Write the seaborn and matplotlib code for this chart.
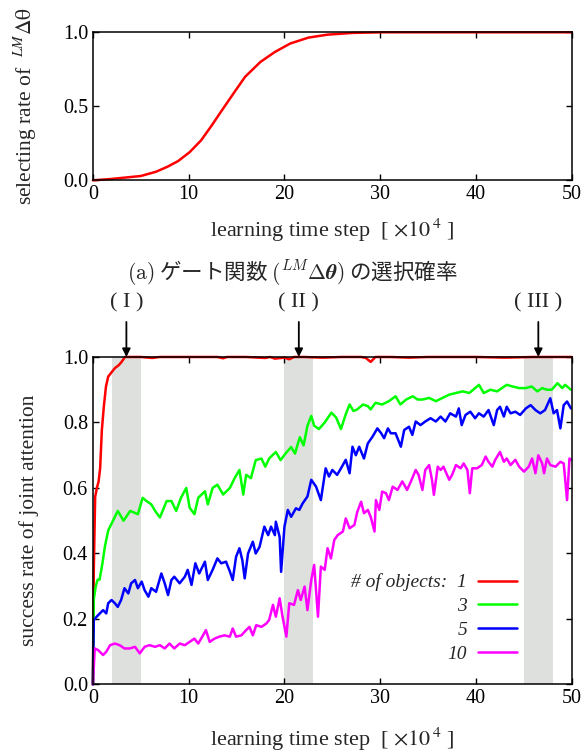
import numpy as np
import pandas as pd
import matplotlib
matplotlib.use("Agg")
import matplotlib.pyplot as plt
import seaborn as sns

# (a) selecting rate of the LM-delta-theta gate
gate_step = [0, 1.9, 5.0, 6.6, 7.8, 8.9, 10.1, 11.3, 12.4, 13.6, 14.8, 15.9,
             17.5, 19.0, 20.6, 22.5, 24.5, 27.2, 30.3, 35, 40, 45, 50]
gate_rate = [0.0, 0.009, 0.029, 0.058, 0.092, 0.13, 0.19, 0.27, 0.37, 0.485,
             0.598, 0.70, 0.80, 0.867, 0.924, 0.964, 0.984, 0.996, 1.0, 1.0,
             1.0, 1.0, 1.0]

# (b) success rate of joint attention, one series per number of objects
obj1_step = [0, 0.1, 0.24, 0.42, 0.6, 0.76, 0.94, 1.15, 1.37, 1.6, 2.0, 2.3,
             2.7, 3.0, 3.35, 5, 6.2, 7, 9, 11, 13, 13.6, 14, 16, 18, 18.5, 19,
             20, 20.5, 21, 22, 24, 26, 28, 28.5, 29, 29.5, 31, 33, 35, 37, 40,
             43, 46, 50]
obj1_rate = [0.0, 0.35, 0.573, 0.60, 0.62, 0.66, 0.777, 0.85, 0.91, 0.94,
             0.955, 0.966, 0.975, 0.985, 1.0, 1.0, 0.997, 1.0, 1.0, 1.0, 1.0,
             0.996, 1.0, 1.0, 0.997, 1.0, 0.995, 0.998, 0.993, 1.0, 1.0,
             0.998, 1.0, 1.0, 0.997, 0.985, 1.0, 1.0, 0.998, 1.0, 1.0, 1.0,
             0.998, 1.0, 1.0]

obj3_step = [0, 0.1, 0.3, 0.5, 0.7, 1.0, 1.25, 1.6, 2.1, 2.6, 3.2, 3.9, 4.7,
             5.2, 5.6, 6.1, 6.5, 7.0, 7.7, 8.2, 8.7, 9.2, 9.75, 10.1, 10.6,
             11.0, 11.7, 12.0, 12.5, 13.0, 13.6, 14.3, 14.8, 15.3, 15.7, 16.0,
             16.5, 17.0, 17.6, 18.0, 18.4, 19.1, 19.6, 20.1, 20.7, 21.1, 21.6,
             22.0, 22.4, 22.8, 23.1, 23.6, 24.2, 24.9, 25.4, 25.9, 26.4, 26.8,
             27.2, 27.6, 28.2, 28.7, 29.0, 29.5, 30.2, 30.9, 31.6, 32.1, 32.7,
             33.4, 33.9, 34.4, 35.1, 35.8, 36.5, 37.2, 37.9, 38.6, 39.3, 39.9,
             40.3, 40.8, 41.5, 42.2, 42.7, 43.2, 43.8, 44.5, 45.2, 45.8, 46.4,
             46.9, 47.4, 47.9, 48.5, 49.0, 49.3, 49.9]
obj3_rate = [0.0, 0.26, 0.30, 0.32, 0.32, 0.37, 0.42, 0.47, 0.50, 0.53, 0.50,
             0.53, 0.52, 0.57, 0.56, 0.55, 0.53, 0.51, 0.56, 0.56, 0.53, 0.57,
             0.60, 0.54, 0.52, 0.57, 0.59, 0.55, 0.60, 0.61, 0.58, 0.60, 0.63,
             0.655, 0.58, 0.64, 0.63, 0.685, 0.69, 0.665, 0.69, 0.71, 0.685,
             0.705, 0.725, 0.705, 0.755, 0.73, 0.79, 0.82, 0.79, 0.78, 0.80,
             0.83, 0.815, 0.78, 0.825, 0.855, 0.835, 0.84, 0.855, 0.85, 0.84,
             0.86, 0.855, 0.865, 0.88, 0.855, 0.87, 0.88, 0.87, 0.87, 0.875,
             0.865, 0.875, 0.885, 0.89, 0.895, 0.89, 0.905, 0.915, 0.89, 0.90,
             0.895, 0.905, 0.915, 0.91, 0.905, 0.905, 0.91, 0.895, 0.905, 0.90,
             0.90, 0.92, 0.905, 0.915, 0.90]

obj5_step = [0, 0.1, 0.4, 0.73, 1.07, 1.4, 1.6, 1.95, 2.3, 2.6, 2.95, 3.3,
             3.7, 4.0, 4.4, 4.7, 5.1, 5.4, 5.8, 6.1, 6.6, 7.15, 7.5, 7.85, 8.2,
             8.5, 9.06, 9.6, 9.9, 10.3, 10.7, 11.1, 11.7, 12.0, 12.5, 13.0,
             13.4, 13.9, 14.3, 14.6, 14.95, 15.3, 15.6, 15.85, 16.2, 16.7, 17.0,
             17.4, 17.9, 18.3, 18.6, 19.0, 19.1, 19.5, 19.65, 20.0, 20.35, 20.7,
             21.2, 21.55, 21.9, 22.4, 22.8, 23.3, 23.8, 24.3, 24.65, 25.0, 25.5,
             25.9, 26.4, 26.8, 27.1, 27.45, 27.8, 28.3, 28.7, 29.2, 29.7, 30.1,
             30.4, 30.8, 31.1, 31.6, 32.15, 32.5, 33.0, 33.35, 33.7, 34.2, 34.7,
             35.25, 35.8, 36.3, 36.8, 37.3, 37.9, 38.2, 38.5, 38.9, 39.4, 39.9,
             40.3, 40.8, 41.3, 41.85, 42.2, 42.5, 42.9, 43.2, 43.6, 44.1, 44.6,
             45.2, 45.7, 46.2, 46.7, 47.2, 47.75, 48.1, 48.45, 48.8, 49.15,
             49.5, 49.9]
obj5_rate = [0.0, 0.197, 0.207, 0.217, 0.227, 0.217, 0.248, 0.258, 0.248,
             0.237, 0.258, 0.294, 0.278, 0.309, 0.319, 0.294, 0.314, 0.288,
             0.268, 0.294, 0.283, 0.339, 0.309, 0.273, 0.319, 0.329, 0.309,
             0.329, 0.35, 0.304, 0.37, 0.339, 0.375, 0.319, 0.35, 0.385, 0.37,
             0.375, 0.345, 0.319, 0.39, 0.416, 0.38, 0.324, 0.40, 0.436, 0.40,
             0.42, 0.482, 0.456, 0.482, 0.456, 0.497, 0.45, 0.344, 0.482, 0.533,
             0.512, 0.538, 0.533, 0.553, 0.574, 0.625, 0.604, 0.563, 0.66,
             0.635, 0.655, 0.64, 0.66, 0.686, 0.645, 0.726, 0.70, 0.726, 0.69,
             0.736, 0.757, 0.782, 0.767, 0.752, 0.782, 0.767, 0.767, 0.726,
             0.777, 0.787, 0.762, 0.803, 0.792, 0.803, 0.813, 0.803, 0.818,
             0.803, 0.828, 0.818, 0.843, 0.792, 0.823, 0.833, 0.813, 0.828,
             0.818, 0.838, 0.792, 0.838, 0.848, 0.818, 0.848, 0.828, 0.833,
             0.823, 0.843, 0.853, 0.838, 0.828, 0.838, 0.874, 0.828, 0.838,
             0.782, 0.853, 0.864, 0.843]

obj10_step = [0, 0.2, 0.55, 1.07, 1.4, 1.8, 2.3, 2.8, 3.3, 3.85, 4.4, 4.9,
              5.4, 5.9, 6.5, 7.0, 7.5, 8.0, 8.5, 9.06, 9.6, 10.1, 10.6, 11.0,
              11.5, 11.8, 12.2, 12.7, 13.2, 13.75, 14.3, 14.6, 14.95, 15.5,
              16.0, 16.35, 16.7, 17.05, 17.6, 18.1, 18.4, 18.8, 19.1, 19.5,
              19.8, 20.2, 20.5, 21.0, 21.4, 21.7, 22.1, 22.4, 22.8, 23.1, 23.5,
              23.8, 24.2, 24.5, 24.85, 25.2, 25.55, 26.1, 26.4, 26.8, 27.3,
              27.6, 28.0, 28.3, 28.7, 29.0, 29.4, 29.55, 29.9, 30.2, 30.6, 30.9,
              31.3, 31.8, 32.3, 32.8, 33.2, 33.7, 34.0, 34.4, 34.7, 35.1, 35.4,
              35.6, 36.0, 36.3, 36.6, 37.2, 37.5, 37.9, 38.4, 38.7, 39.1, 39.35,
              39.6, 40.1, 40.6, 41.0, 41.3, 41.7, 42.0, 42.5, 42.9, 43.2, 43.6,
              44.1, 44.5, 45.0, 45.5, 45.85, 46.2, 46.5, 46.9, 47.1, 47.4,
              47.75, 48.3, 48.8, 49.15, 49.5, 49.75, 49.9]
obj10_rate = [0.0, 0.11, 0.105, 0.09, 0.10, 0.12, 0.125, 0.12, 0.11, 0.11,
              0.115, 0.095, 0.115, 0.12, 0.115, 0.12, 0.11, 0.125, 0.11, 0.125,
              0.12, 0.13, 0.14, 0.125, 0.15, 0.166, 0.13, 0.14, 0.146, 0.15,
              0.146, 0.171, 0.146, 0.15, 0.166, 0.176, 0.15, 0.181, 0.176,
              0.186, 0.197, 0.243, 0.207, 0.263, 0.207, 0.146, 0.248, 0.243,
              0.288, 0.258, 0.299, 0.227, 0.319, 0.365, 0.207, 0.36, 0.35,
              0.416, 0.385, 0.441, 0.456, 0.467, 0.507, 0.477, 0.487, 0.527,
              0.558, 0.523, 0.533, 0.512, 0.467, 0.563, 0.533, 0.589, 0.584,
              0.563, 0.604, 0.594, 0.62, 0.594, 0.62, 0.655, 0.64, 0.594, 0.655,
              0.67, 0.625, 0.579, 0.665, 0.655, 0.665, 0.625, 0.64, 0.67, 0.66,
              0.675, 0.655, 0.584, 0.66, 0.66, 0.67, 0.696, 0.68, 0.665, 0.686,
              0.71, 0.68, 0.69, 0.67, 0.686, 0.665, 0.65, 0.665, 0.69, 0.645,
              0.70, 0.675, 0.645, 0.69, 0.67, 0.665, 0.68, 0.675, 0.563, 0.69,
              0.686]

object_counts = ["1", "3", "5", "10"]
legend_labels = ["# of objects:  1", "3", "5", "10"]
line_colors = ["#ff0000", "#00ff00", "#0000ff", "#ff00ff"]

phase_start = [2, 20, 45]
phase_width = 3
phase_names = ["( I )", "( II )", "( III )"]

sns.set_theme(style="ticks")
plt.rcParams["font.family"] = ["Liberation Serif", "DejaVu Serif"]
plt.rcParams["mathtext.fontset"] = "stix"
plt.rcParams.update({
    "axes.edgecolor": "black",
    "axes.linewidth": 1.1,
    "xtick.direction": "in",
    "ytick.direction": "in",
    "xtick.top": True,
    "ytick.right": True,
    "xtick.major.size": 4,
    "ytick.major.size": 4,
    "xtick.major.width": 1.0,
    "ytick.major.width": 1.0,
    "xtick.labelsize": 14.5,
    "ytick.labelsize": 14.5,
    "xtick.color": "black",
    "ytick.color": "black",
    "axes.labelsize": 16,
})

fig = plt.figure(figsize=(5.84, 7.56), dpi=100)
ax_top = fig.add_axes([0.159, 0.7615, 0.8202, 0.1958])
ax_bot = fig.add_axes([0.159, 0.0946, 0.8202, 0.4332])

xlabel = r"learning time step  [ $\times 10^{\,4}$ ]"

# top panel
sns.lineplot(x=gate_step, y=gate_rate, color="#ff0000", lw=1.8,
             clip_on=False, ax=ax_top)
ax_top.set_xlim(0, 50)
ax_top.set_ylim(0, 1)
ax_top.set_xticks(range(0, 51, 10))
ax_top.set_yticks([0, 0.5, 1.0])
ax_top.set_yticklabels(["0.0", "0.5", "1.0"])
ax_top.set_xlabel(xlabel, labelpad=9)
ax_top.set_ylabel(r"selecting rate of  $^{LM}\Delta\mathrm{\theta}$",
                  fontsize=15.5, labelpad=17)

fig.text(0.5, 1 - 273 / 756,
         r"$\mathrm{(a)}$ ゲート関数 $(^{LM}\Delta\boldsymbol{\theta})$ の選択確率",
         ha="center", va="center", fontsize=15.5,
         family=["Noto Sans CJK JP", "DejaVu Sans"], math_fontfamily="cm")

# bottom panel
frames = []
for count, steps, rates in zip(object_counts,
                               [obj1_step, obj3_step, obj5_step, obj10_step],
                               [obj1_rate, obj3_rate, obj5_rate, obj10_rate]):
    frames.append(pd.DataFrame({"step": steps, "rate": rates, "objects": count}))
joint = pd.concat(frames, ignore_index=True)

for start in phase_start:
    ax_bot.axvspan(start, start + phase_width, color="#dde0dd", lw=0, zorder=0)

sns.lineplot(data=joint, x="step", y="rate", hue="objects",
             hue_order=object_counts, palette=line_colors, estimator=None,
             sort=False, lw=1.8, clip_on=False, ax=ax_bot)

ax_bot.set_xlim(0, 50)
ax_bot.set_ylim(0, 1)
ax_bot.set_xticks(range(0, 51, 10))
ax_bot.set_yticks(np.arange(0, 1.01, 0.2))
ax_bot.set_yticklabels([f"{v:.1f}" for v in np.arange(0, 1.01, 0.2)])
ax_bot.set_xlabel(xlabel, labelpad=12)
ax_bot.set_ylabel("success rate of joint attention", fontsize=15.5, labelpad=17)

for start, name in zip(phase_start, phase_names):
    mid = start + phase_width / 2
    ax_bot.annotate("", xy=(mid, 1.0), xytext=(mid, 1.107),
                    xycoords=("data", "axes fraction"),
                    arrowprops=dict(arrowstyle="-|>", color="black", lw=1.3,
                                    mutation_scale=12, shrinkA=0, shrinkB=0),
                    annotation_clip=False)
    ax_bot.text(mid, 1.165, name, ha="center", va="center", fontsize=16,
                transform=ax_bot.get_xaxis_transform())

handles, _ = ax_bot.get_legend_handles_labels()
ax_bot.legend(handles, legend_labels, loc="lower right",
              bbox_to_anchor=(0.885, 0.066), markerfirst=False, frameon=False,
              borderaxespad=0, borderpad=0, handlelength=2.0,
              handletextpad=0.55, labelspacing=0.32,
              prop={"family": "Liberation Serif", "style": "italic", "size": 14})

fig.savefig("out.png", dpi=100)
